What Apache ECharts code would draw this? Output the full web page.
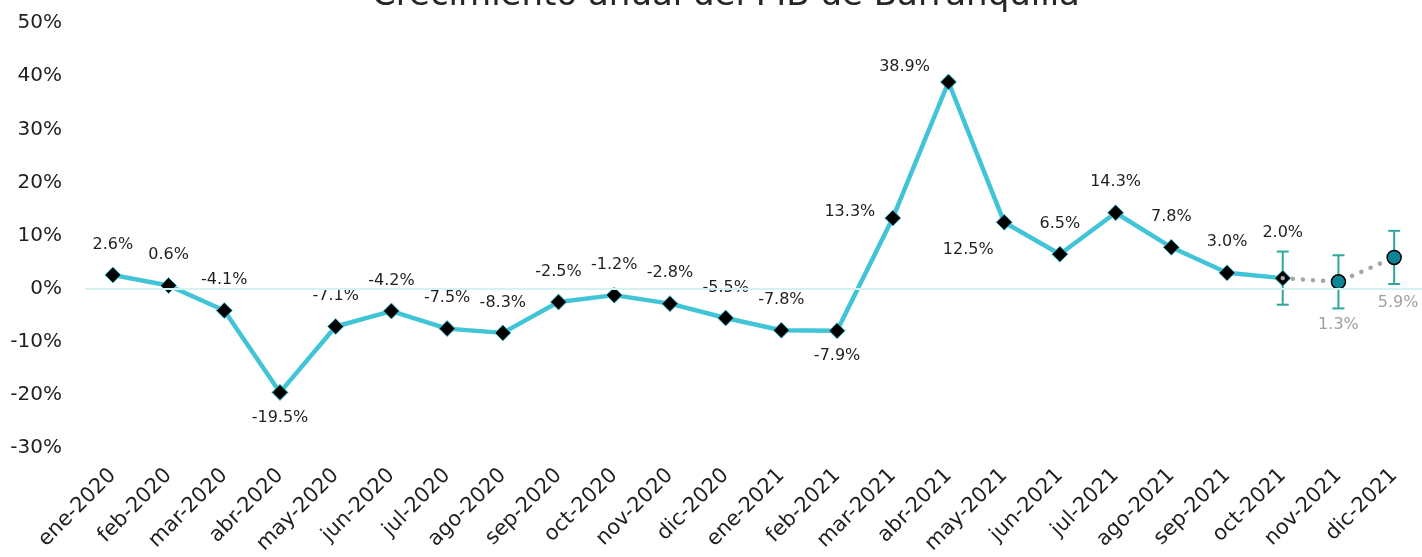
<!DOCTYPE html>
<html>
<head>
<meta charset="utf-8">
<script src="https://cdn.jsdelivr.net/npm/echarts@6/dist/echarts.min.js"></script>
<style>
  html, body { margin: 0; padding: 0; background: #ffffff; }
  #chart { width: 1422px; height: 557px; }
</style>
</head>
<body>
<div id="chart"></div>
<script>
const categories = ['ene-2020','feb-2020','mar-2020','abr-2020','may-2020','jun-2020','jul-2020','ago-2020','sep-2020','oct-2020','nov-2020','dic-2020','ene-2021','feb-2021','mar-2021','abr-2021','may-2021','jun-2021','jul-2021','ago-2021','sep-2021','oct-2021','nov-2021','dic-2021'];
const growthValues = [2.6, 0.6, -4.1, -19.5, -7.1, -4.2, -7.5, -8.3, -2.5, -1.2, -2.8, -5.5, -7.8, -7.9, 13.3, 38.9, 12.5, 6.5, 14.3, 7.8, 3.0, 2.0];
const forecastCategories = ['oct-2021','nov-2021','dic-2021'];
const forecastValues = [2.0, 1.3, 5.9];
const errorLow = [-3.0, -3.7, 0.9];
const errorHigh = [7.0, 6.3, 10.9];
const yTicks = [-30, -20, -10, 0, 10, 20, 30, 40, 50];
const titleText = 'Crecimiento anual del PIB de Barranquilla';

const FONT = 'DejaVu Sans';
const LINE = '#40C4D6';

// label placement overrides (styling only)
const labelStyle = {
  3: { position: 'bottom', distance: 9 },
  13: { position: 'bottom', distance: 9 },
  14: { position: 'left', distance: 9, offset: [0, -6] },
  15: { position: 'left', distance: 10, offset: [0, -15] },
  16: { position: 'bottom', distance: 11, offset: [-36, 0] },
  21: { position: 'top', distance: 29 }
};

const mainData = growthValues.map((v, i) => {
  const item = { value: v };
  if (labelStyle[i]) item.label = labelStyle[i];
  return item;
});

const forecastData = categories.map(c => {
  const k = forecastCategories.indexOf(c);
  if (k < 0) return null;
  const item = { value: forecastValues[k] };
  if (k === 0) { item.symbol = 'none'; item.label = { show: false }; }
  if (k === 2) item.label = { distance: 30, offset: [4, 0] };
  return item;
});

const errorData = forecastCategories.map((c, k) => [categories.indexOf(c), errorLow[k], errorHigh[k]]);

const chart = echarts.init(document.getElementById('chart'));
chart.setOption({
  animation: false,
  backgroundColor: '#ffffff',
  title: {
    text: titleText,
    left: 372,
    top: -21,
    padding: 0,
    textStyle: { fontFamily: FONT, fontSize: 34, fontWeight: 'normal', color: '#262626' }
  },
  grid: { left: 85, right: -2, top: 23, bottom: 107, containLabel: false },
  xAxis: {
    type: 'category',
    data: categories,
    boundaryGap: true,
    axisLine: { show: false },
    axisTick: { show: false },
    axisLabel: { rotate: 45, fontFamily: FONT, fontSize: 21, color: '#1f1f1f', margin: 24, interval: 0 }
  },
  yAxis: {
    type: 'value',
    min: yTicks[0],
    max: yTicks[yTicks.length - 1],
    interval: 10,
    splitLine: { show: false },
    axisLine: { show: false },
    axisTick: { show: false },
    axisLabel: { fontFamily: FONT, fontSize: 20, color: '#1f1f1f', margin: 23, formatter: v => v + '%' }
  },
  series: [
    {
      type: 'custom',
      name: 'error',
      z: 1,
      silent: true,
      data: errorData,
      renderItem: function (params, api) {
        const x = api.value(0);
        const lo = api.coord([x, api.value(1)]);
        const hi = api.coord([x, api.value(2)]);
        const cap = 6;
        const style = { stroke: '#2FA699', lineWidth: 2, fill: null };
        return {
          type: 'group',
          children: [
            { type: 'line', shape: { x1: lo[0], y1: lo[1], x2: hi[0], y2: hi[1] }, style: style },
            { type: 'line', shape: { x1: lo[0] - cap, y1: lo[1], x2: lo[0] + cap, y2: lo[1] }, style: style },
            { type: 'line', shape: { x1: hi[0] - cap, y1: hi[1], x2: hi[0] + cap, y2: hi[1] }, style: style }
          ]
        };
      },
      markLine: {
        silent: true,
        symbol: 'none',
        label: { show: false },
        lineStyle: { color: '#D6F2F0', width: 2, type: 'solid' },
        data: [{ yAxis: 0 }]
      }
    },
    {
      type: 'line',
      name: 'Crecimiento',
      z: 3,
      data: mainData,
      symbol: 'diamond',
      symbolSize: 16,
      lineStyle: { color: LINE, width: 4.5 },
      itemStyle: { color: '#000000', borderColor: LINE, borderWidth: 1 },
      label: {
        show: true,
        position: 'top',
        distance: 14,
        fontFamily: FONT,
        fontSize: 16,
        color: '#1f1f1f',
        formatter: p => p.value.toFixed(1) + '%'
      }
    },
    {
      type: 'line',
      name: 'Proyección',
      z: 4,
      data: forecastData,
      symbol: 'circle',
      symbolSize: 14,
      connectNulls: false,
      lineStyle: { color: '#A6A6A6', width: 4.5, type: [0.1, 10], cap: 'round' },
      itemStyle: { color: '#0E8496', borderColor: '#000000', borderWidth: 1.5 },
      label: {
        show: true,
        position: 'bottom',
        distance: 27,
        fontFamily: FONT,
        fontSize: 16,
        color: '#A0A0A0',
        formatter: p => p.value.toFixed(1) + '%'
      }
    }
  ]
});
</script>
</body>
</html>
